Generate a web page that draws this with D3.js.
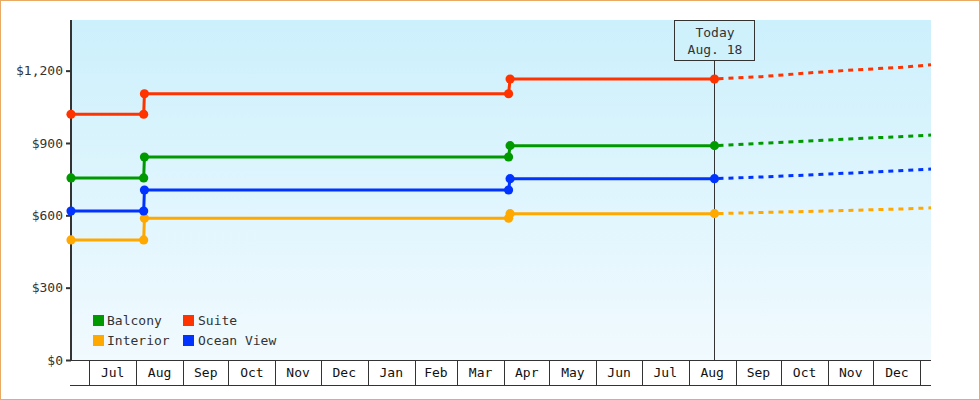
<!DOCTYPE html>
<html>
<head>
<meta charset="utf-8">
<script src="https://cdn.jsdelivr.net/npm/d3@7"></script>
<style>
  html, body { margin: 0; padding: 0; background: #fff; }
  svg { display: block; }
  text { font-family: "DejaVu Sans Mono", monospace; font-size: 13px; fill: #333; }
</style>
</head>
<body>
<svg id="chart" width="980" height="400"></svg>
<script>
// ---- data ----
const seriesNames = ["Balcony", "Suite", "Interior", "Ocean View"];
const actualDates = ["2013-06-19", "2013-08-06", "2013-08-06T12:00", "2014-04-04", "2014-04-05", "2014-08-18"];
const balconyActual   = [755, 755, 842, 842, 889, 889];
const suiteActual     = [1019, 1019, 1104, 1104, 1165, 1165];
const interiorActual  = [498, 498, 588, 588, 607, 607];
const oceanViewActual = [618, 618, 705, 705, 752, 752];
const projectionDates = ["2014-08-18", "2014-09-18", "2014-10-18", "2014-11-18", "2014-12-18", "2015-01-08"];
const balconyProjected   = [889, 899, 908, 918, 926, 933];
const suiteProjected     = [1165, 1175, 1190, 1203, 1213, 1224];
const interiorProjected  = [607, 612, 616, 621, 626, 631];
const oceanViewProjected = [752, 759, 767, 776, 785, 792];
const yTickValues = [0, 300, 600, 900, 1200];
const domainDates = ["2013-06-19", "2015-01-08"];
const todayDate = "2014-08-18";
const todayLabel = ["Today", "Aug. 18"];

// ---- styles ----
const colors = { "Balcony": "#009900", "Suite": "#ff3300", "Interior": "#ffa800", "Ocean View": "#0033ff" };

const parse = s => new Date(s);
const actualMap = { "Balcony": balconyActual, "Suite": suiteActual, "Interior": interiorActual, "Ocean View": oceanViewActual };
const projMap = { "Balcony": balconyProjected, "Suite": suiteProjected, "Interior": interiorProjected, "Ocean View": oceanViewProjected };

const svg = d3.select("#chart");
const L = 71, R = 931, T = 20, B = 360;

const x = d3.scaleTime().domain(domainDates.map(parse)).range([L, R]);
const y = d3.scaleLinear().domain([0, 1410]).range([B, T]);

// outer border
svg.append("rect").attr("x", 0.5).attr("y", 0.5).attr("width", 979).attr("height", 399)
  .attr("fill", "#fff").attr("stroke", "#e9aa66").attr("stroke-width", 1);

// background gradient
const defs = svg.append("defs");
const grad = defs.append("linearGradient").attr("id", "bg").attr("x1", 0).attr("y1", 0).attr("x2", 0).attr("y2", 1);
grad.append("stop").attr("offset", "0%").attr("stop-color", "#ccf0fc");
grad.append("stop").attr("offset", "100%").attr("stop-color", "#f1fafe");
svg.append("rect").attr("x", L).attr("y", T).attr("width", R - L).attr("height", B - T).attr("fill", "url(#bg)");

// month band axis
const months = d3.timeMonth.range(d3.timeMonth.ceil(x.domain()[0]), x.domain()[1]);
const xAxis = d3.axisBottom(x).tickValues(months).tickSize(25).tickFormat("");
const gx = svg.append("g").attr("transform", `translate(0,${B})`).call(xAxis);
gx.select(".domain").remove();
gx.selectAll(".tick line").attr("stroke", "#333").attr("shape-rendering", "crispEdges");
svg.append("line").attr("x1", L).attr("x2", R).attr("y1", B + 0.5).attr("y2", B + 0.5).attr("stroke", "#333");
svg.append("line").attr("x1", L - 1).attr("x2", R).attr("y1", B + 25.5).attr("y2", B + 25.5).attr("stroke", "#333");
const fmtMonth = d3.timeFormat("%b");
const fullMonths = months.filter(m => d3.timeMonth.offset(m, 1) <= x.domain()[1]);
svg.append("g").selectAll("text").data(fullMonths).join("text")
  .attr("x", d => (x(d) + x(d3.timeMonth.offset(d, 1))) / 2)
  .attr("y", B + 17)
  .attr("text-anchor", "middle")
  .style("fill", "#111")
  .text(d => fmtMonth(d));

// y axis
const yAxis = d3.axisLeft(y).tickValues(yTickValues).tickSize(5).tickPadding(3)
  .tickFormat(d => "$" + d3.format(",")(d));
const gy = svg.append("g").attr("transform", `translate(${L},0)`).call(yAxis);
gy.select(".domain").remove();
gy.selectAll(".tick line").attr("stroke", "#333").attr("stroke-width", 2);
gy.selectAll(".tick text").style("font-family", "DejaVu Sans Mono, monospace").style("font-size", "13px").style("fill", "#333");
svg.append("line").attr("x1", L).attr("x2", L).attr("y1", T).attr("y2", B + 1).attr("stroke", "#333").attr("stroke-width", 2);

// today marker
const tx = x(parse(todayDate));
svg.append("line").attr("x1", Math.round(tx) + 0.5).attr("x2", Math.round(tx) + 0.5).attr("y1", 60).attr("y2", B)
  .attr("stroke", "#333").attr("stroke-width", 1);
svg.append("rect").attr("x", Math.round(tx) - 39.5).attr("y", 20.5).attr("width", 80).attr("height", 40)
  .attr("fill", "#cff1fc").attr("stroke", "#333").attr("stroke-width", 1);
svg.append("text").attr("x", tx + 0.5).attr("y", 37).attr("text-anchor", "middle").text(todayLabel[0]);
svg.append("text").attr("x", tx + 0.5).attr("y", 54).attr("text-anchor", "middle").text(todayLabel[1]);

// lines
const line = d3.line().x(d => x(d.date)).y(d => y(d.value));
seriesNames.forEach(name => {
  const actual = actualDates.map((d, i) => ({ date: parse(d), value: actualMap[name][i] }));
  const proj = projectionDates.map((d, i) => ({ date: parse(d), value: projMap[name][i] }));
  svg.append("path").datum(proj).attr("d", line).attr("fill", "none")
    .attr("stroke", colors[name]).attr("stroke-width", 3).attr("stroke-dasharray", "5,5").attr("stroke-dashoffset", -4);
  svg.append("path").datum(actual).attr("d", line).attr("fill", "none")
    .attr("stroke", colors[name]).attr("stroke-width", 3);
  svg.append("g").selectAll("path").data(actual).join("path")
    .attr("transform", d => `translate(${x(d.date)},${y(d.value)})`)
    .attr("d", d3.symbol().type(d3.symbolCircle).size(66))
    .attr("fill", colors[name]);
});

// legend
const legend = svg.append("g");
seriesNames.forEach((name, i) => {
  const col = i % 2, row = Math.floor(i / 2);
  const lx = 93 + col * 90, ly = 315 + row * 20;
  legend.append("rect").attr("x", lx).attr("y", ly).attr("width", 11).attr("height", 11).attr("fill", colors[name]);
  legend.append("text").attr("x", lx + 14 + col).attr("y", ly + 10).text(name);
});
</script>
</body>
</html>
